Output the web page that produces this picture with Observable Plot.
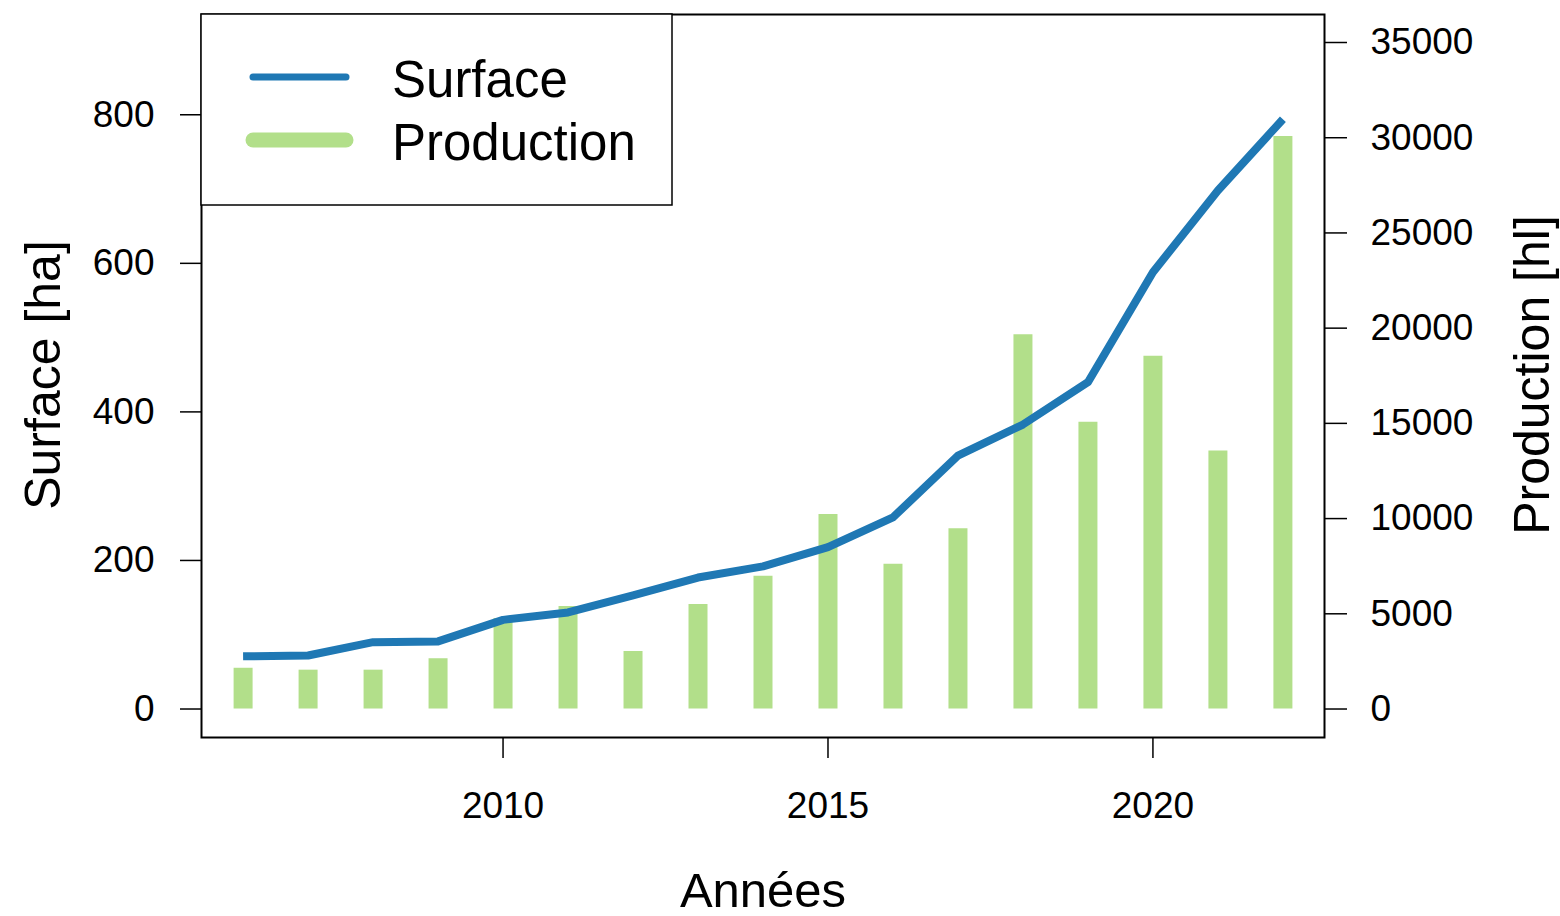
<!DOCTYPE html>
<html>
<head>
<meta charset="utf-8">
<script src="https://cdn.jsdelivr.net/npm/d3@7"></script>
<script src="https://cdn.jsdelivr.net/npm/@observablehq/plot@0.6"></script>
<style>
  html, body { margin: 0; padding: 0; background: #fff; }
  svg { display: block; }
</style>
</head>
<body>
<div id="chart"></div>
<script>
// ---- data ----
const years = [2006, 2007, 2008, 2009, 2010, 2011, 2012, 2013, 2014, 2015, 2016, 2017, 2018, 2019, 2020, 2021, 2022];
const surface = [71, 72, 90, 91, 120, 130, 153, 177, 192, 218, 258, 341, 383, 440, 588, 698, 794];          // ha
const production = [2140, 2040, 2040, 2640, 4750, 5380, 3020, 5490, 6970, 10210, 7600, 9460, 19660, 15060, 18520, 13550, 30070]; // hl
const yearTicks = [2010, 2015, 2020];
const surfaceTicks = [0, 200, 400, 600, 800];
const productionTicks = [0, 5000, 10000, 15000, 20000, 25000, 30000, 35000];
const seriesNames = ["Surface", "Production"];
const seriesColors = ["#1F78B4", "#B2DF8A"];

// production (right axis) expressed in the units of the left axis
const prodScale = 897.3 / 35000;

const data = years.map((year, i) => ({
  year,
  surface: surface[i],
  production: production[i],
  prodY: production[i] * prodScale
}));

const font = "'Liberation Sans', Arial, Helvetica, sans-serif";

const chart = Plot.plot({
  width: 1560,
  height: 916,
  marginLeft: 201,
  marginRight: 236,
  marginTop: 14,
  marginBottom: 179,
  style: { fontFamily: font, fontSize: "37px", color: "#000", background: "#fff" },
  x: { domain: [2005.36, 2022.64] },
  y: { domain: [-38.35, 935] },
  marks: [
    Plot.ruleX(data, { x: "year", y1: 0, y2: "prodY", stroke: seriesColors[1], strokeWidth: 19 }),
    Plot.line(data, { x: "year", y: "surface", stroke: seriesColors[0], strokeWidth: 8, strokeLinejoin: "round", strokeLinecap: "butt" }),
    Plot.frame({ stroke: "#000", strokeWidth: 2 }),
    Plot.axisX(yearTicks, { anchor: "bottom", tickSize: 21, tickPadding: 33, strokeWidth: 1.5, tickFormat: d => String(d), label: null, fontSize: 37 }),
    Plot.axisY(surfaceTicks, { anchor: "left", tickSize: 21, tickPadding: 26, strokeWidth: 1.5, tickFormat: d => String(d), label: null, fontSize: 37 }),
    Plot.axisY(productionTicks.map(v => v * prodScale), { anchor: "right", tickSize: 22, tickPadding: 24, strokeWidth: 1.5, tickFormat: v => String(Math.round(v / prodScale)), label: null, fontSize: 37 })
  ]
});

document.getElementById("chart").appendChild(chart);

// ---- axis titles and legend ----
const svg = d3.select(chart);
const g = svg.append("g").attr("font-family", font).attr("fill", "#000");

g.append("text")
  .attr("transform", "translate(42,375) rotate(-90)")
  .attr("text-anchor", "middle").attr("dy", "0.36em")
  .attr("font-size", 50).text("Surface [ha]");

g.append("text")
  .attr("transform", "translate(1531,375) rotate(-90)")
  .attr("text-anchor", "middle").attr("dy", "0.36em")
  .attr("font-size", 50).text("Production [hl]");

g.append("text")
  .attr("x", 763).attr("y", 889)
  .attr("text-anchor", "middle").attr("dy", "0.36em")
  .attr("font-size", 49).text("Années");

const leg = svg.append("g").attr("font-family", font);
leg.append("rect")
  .attr("x", 201).attr("y", 14).attr("width", 471).attr("height", 191)
  .attr("fill", "#fff").attr("stroke", "#000").attr("stroke-width", 1.5);
const legendRows = [
  { name: seriesNames[0], color: seriesColors[0], w: 7, y: 77 },
  { name: seriesNames[1], color: seriesColors[1], w: 15, y: 140 }
];
legendRows.forEach(r => {
  leg.append("line")
    .attr("x1", 253).attr("x2", 346).attr("y1", r.y).attr("y2", r.y)
    .attr("stroke", r.color).attr("stroke-width", r.w).attr("stroke-linecap", "round");
  leg.append("text")
    .attr("x", 392).attr("y", r.y + 2).attr("dy", "0.36em")
    .attr("text-anchor", "start")
    .attr("font-size", 51).attr("fill", "#000").text(r.name);
});
</script>
</body>
</html>
